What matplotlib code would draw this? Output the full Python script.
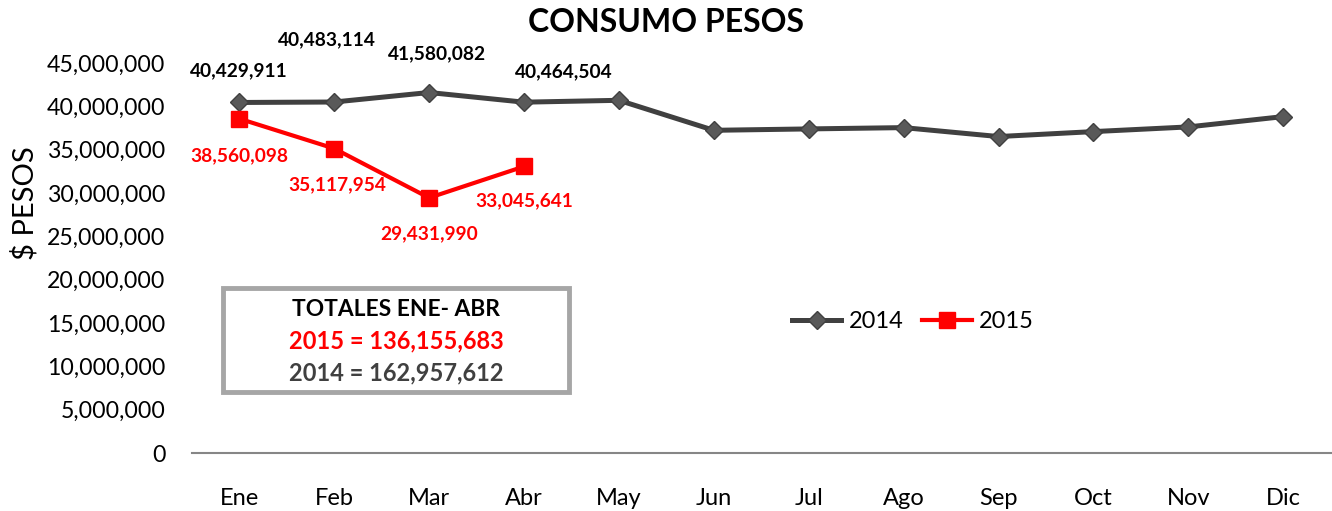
import matplotlib.pyplot as plt
from matplotlib.patches import FancyBboxPatch

plt.rcParams['font.family'] = ['Lato', 'DejaVu Sans']

meses = ['Ene', 'Feb', 'Mar', 'Abr', 'May', 'Jun', 'Jul', 'Ago', 'Sep', 'Oct', 'Nov', 'Dic']
consumo_2014 = [40429911, 40483114, 41580082, 40464504, 40680000, 37220000,
                37380000, 37530000, 36500000, 37070000, 37610000, 38800000]
consumo_2015 = [38560098, 35117954, 29431990, 33045641]
total_2014 = 162957612
total_2015 = 136155683

gris = '#404040'
rojo = '#ff0000'

fig = plt.figure(figsize=(13.32, 5.11), dpi=100)
ax = fig.add_axes([0.144, 0.1135, 0.855, 0.7635])

x = list(range(len(meses)))
ax.plot(x, consumo_2014, color=gris, lw=3.6, marker='D', ms=9.5,
        mfc='#595959', mec='#404040', label='2014', zorder=3)
ax.plot(x[:len(consumo_2015)], consumo_2015, color=rojo, lw=3.0, marker='s', ms=11,
        mfc=rojo, mec=rojo, label='2015', zorder=4)

# etiquetas de datos (desplazamientos en puntos)
off_2014 = [(0, 23), (-5, 45), (6, 28), (29, 22)]
for i, (dx, dy) in enumerate(off_2014):
    ax.annotate(f'{consumo_2014[i]:,}', (x[i], consumo_2014[i]), xytext=(dx, dy),
                textcoords='offset points', ha='center', va='center',
                fontsize=13.8, fontweight='bold', color='black')
off_2015 = [(0, -27), (2, -26), (0, -26), (0, -25)]
for i, (dx, dy) in enumerate(off_2015):
    ax.annotate(f'{consumo_2015[i]:,}', (x[i], consumo_2015[i]), xytext=(dx, dy),
                textcoords='offset points', ha='center', va='center',
                fontsize=13.8, fontweight='bold', color=rojo)

ax.set_xlim(-0.5, len(meses) - 0.5)
ax.set_ylim(0, 45000000)
ax.set_yticks(range(0, 45000001, 5000000))
ax.yaxis.set_major_formatter(plt.FuncFormatter(lambda v, p: f'{int(v):,}'))
ax.set_xticks(x, meses)
ax.tick_params(axis='both', length=0)
ax.tick_params(axis='y', labelsize=16.7, pad=19)
ax.tick_params(axis='x', labelsize=17, pad=25)
for s in ['top', 'right', 'left']:
    ax.spines[s].set_visible(False)
ax.spines['bottom'].set_color('#868686')
ax.spines['bottom'].set_linewidth(1.5)

ax.set_ylabel('$ PESOS', fontsize=21)
ax.yaxis.set_label_coords(-0.135, 0.64)
fig.text(0.5, 0.955, 'CONSUMO PESOS', ha='center', va='center', fontsize=23, fontweight='bold')

ax.legend(loc='center', bbox_to_anchor=(0.633, 0.336), ncols=2, frameon=False,
          fontsize=17, handlelength=2.1, columnspacing=0.8, handletextpad=0.3)

# cuadro de totales
caja = FancyBboxPatch((223 / 1332, 1 - 392 / 511), 346 / 1332, 104 / 511,
                      boxstyle='square,pad=0', transform=fig.transFigure,
                      facecolor='white', edgecolor='#a6a6a6', lw=3.5, zorder=5)
fig.patches.append(caja)
fig.text(396 / 1332, 1 - 310 / 511, 'TOTALES ENE- ABR', ha='center', va='center',
         fontsize=16.4, fontweight='bold', color='black', zorder=6)
fig.text(396 / 1332, 1 - 341 / 511, f'2015 = {total_2015:,}', ha='center', va='center',
         fontsize=17, fontweight='bold', color=rojo, zorder=6)
fig.text(396 / 1332, 1 - 373 / 511, f'2014 = {total_2014:,}', ha='center', va='center',
         fontsize=17, fontweight='bold', color=gris, zorder=6)

fig.savefig('out.png', dpi=100)
